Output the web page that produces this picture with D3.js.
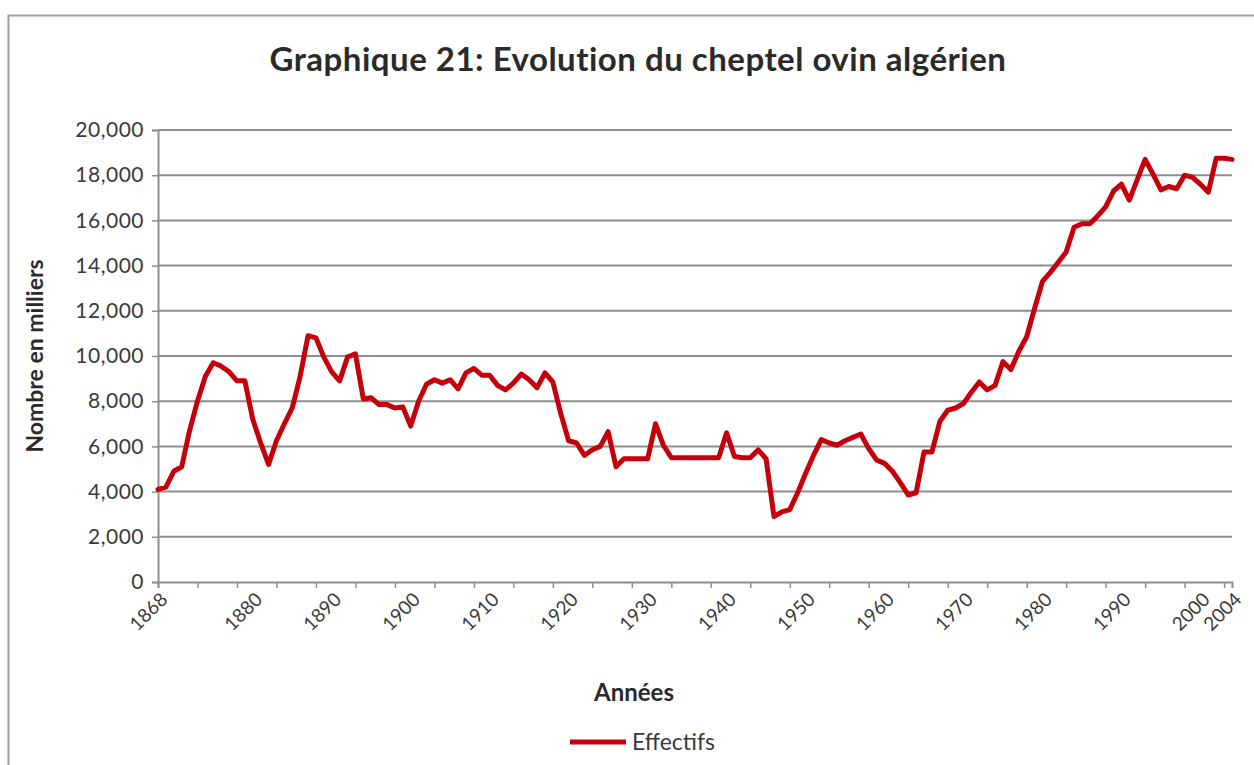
<!DOCTYPE html>
<html>
<head>
<meta charset="utf-8">
<script src="https://cdn.jsdelivr.net/npm/d3@7"></script>
<style>
  html, body { margin: 0; padding: 0; background: #fff; }
  svg { display: block; }
  text { font-family: Lato, "Open Sans", sans-serif; }
</style>
</head>
<body>
<svg id="chart" width="1254" height="765"></svg>
<script>
// Sheep herd in Algeria (thousands of head), one value per year 1868–2004
const firstYear = 1868;
const lastYear = 2004;
const effectifs = [
  4100, 4200, 4900, 5100, 6700, 8000, 9100, 9700, 9550, 9300,   // 1868–1877
  8900, 8900, 7200, 6150, 5200, 6250, 7000, 7700, 9100, 10900,  // 1878–1887
  10800, 9950, 9300, 8900, 9950, 10100, 8100, 8150, 7850, 7850, // 1888–1897
  7700, 7750, 6900, 8000, 8750, 8950, 8800, 8950, 8550, 9250,   // 1898–1907
  9450, 9150, 9150, 8700, 8500, 8800, 9200, 8950, 8600, 9250,   // 1908–1917
  8850, 7450, 6250, 6150, 5600, 5850, 6000, 6650, 5100, 5450,   // 1918–1927
  5450, 5450, 5450, 7000, 6050, 5500, 5500, 5500, 5500, 5500,   // 1928–1937
  5500, 5500, 6600, 5550, 5500, 5500, 5850, 5450, 2900, 3100,   // 1938–1947
  3200, 3950, 4800, 5600, 6300, 6150, 6050, 6250, 6400, 6550,   // 1948–1957
  5900, 5400, 5250, 4900, 4400, 3850, 3950, 5750, 5750, 7100,   // 1958–1967
  7600, 7700, 7900, 8400, 8850, 8500, 8700, 9750, 9400, 10200,  // 1968–1977
  10850, 12100, 13300, 13700, 14150, 14600, 15700, 15850, 15850, 16200, // 1978–1987
  16600, 17300, 17600, 16900, 17800, 18700, 18050, 17350, 17500, 17400, // 1988–1997
  18000, 17900, 17600, 17250, 18750, 18750, 18700                       // 1998–2004
];
const years = d3.range(firstYear, lastYear + 1);

// Axis labels and ticks
const yTicks = [0, 2000, 4000, 6000, 8000, 10000, 12000, 14000, 16000, 18000, 20000];
const xLabelYears = [1868, 1880, 1890, 1900, 1910, 1920, 1930, 1940, 1950, 1960, 1970, 1980, 1990, 2000, 2004];
const xTickYears = d3.range(firstYear, lastYear + 1, 5);

const titleText = "Graphique 21: Evolution du cheptel ovin algérien";
const yTitle = "Nombre en milliers";
const xTitle = "Années";
const seriesName = "Effectifs";

const svg = d3.select("#chart");
const W = 1254, H = 765;
const margin = { left: 158, right: 22, top: 130, bottom: 183 };
const plotW = W - margin.left - margin.right;
const plotH = H - margin.top - margin.bottom;

const lineColor = "#c5000b";
const gridColor = "#8e8e8e";
const textColor = "#3a3a3a";

// outer chart frame
svg.append("rect")
  .attr("x", 8.5).attr("y", 15.5)
  .attr("width", 1300).attr("height", 900)
  .attr("fill", "#fff")
  .attr("stroke", "#a0a0a0").attr("stroke-width", 2);

const x = d3.scaleLinear().domain([firstYear, lastYear]).range([0, plotW]);
const y = d3.scaleLinear().domain([0, 20000]).range([plotH, 0]);

const g = svg.append("g").attr("transform", `translate(${margin.left},${margin.top})`);

// horizontal gridlines
g.append("g")
  .selectAll("line")
  .data(yTicks.filter(d => d > 0))
  .join("line")
  .attr("x1", 0).attr("x2", plotW)
  .attr("y1", d => y(d)).attr("y2", d => y(d))
  .attr("stroke", gridColor).attr("stroke-width", 2);

// y axis
const yAxis = g.append("g")
  .call(d3.axisLeft(y).tickValues(yTicks).tickSize(6).tickPadding(8)
    .tickFormat(d3.format(",")));
yAxis.select(".domain").attr("stroke", gridColor).attr("stroke-width", 2);
yAxis.selectAll(".tick line").attr("stroke", gridColor).attr("stroke-width", 1.5);
yAxis.selectAll(".tick text")
  .attr("fill", textColor)
  .style("font-size", "21px")
  .style("letter-spacing", "0.5px");

// x axis: ticks every 5 years, labels at decades
const xAxis = g.append("g")
  .attr("transform", `translate(0,${plotH})`)
  .call(d3.axisBottom(x).tickValues(xTickYears).tickSize(6).tickFormat(""));
xAxis.select(".domain").attr("stroke", gridColor).attr("stroke-width", 2);
xAxis.selectAll(".tick line").attr("stroke", gridColor).attr("stroke-width", 1.5);

g.append("g")
  .attr("transform", `translate(0,${plotH})`)
  .selectAll("text")
  .data(xLabelYears)
  .join("text")
  .attr("transform", d => `translate(${x(d) + 6},${14}) rotate(-45)`)
  .attr("text-anchor", "end")
  .attr("dy", "0.35em")
  .attr("fill", textColor)
  .style("font-size", "19px")
  .text(d => d);

// data line
const line = d3.line()
  .x((d, i) => x(years[i]))
  .y(d => y(d));

g.append("path")
  .datum(effectifs)
  .attr("fill", "none")
  .attr("stroke", lineColor)
  .attr("stroke-width", 5)
  .attr("stroke-linejoin", "round")
  .attr("stroke-linecap", "round")
  .attr("d", line);

// titles
svg.append("text")
  .attr("x", 638).attr("y", 71)
  .attr("text-anchor", "middle")
  .attr("fill", "#2a2a2a")
  .style("font-size", "33px").style("font-weight", "bold")
  .style("letter-spacing", "0.5px")
  .text(titleText);

svg.append("text")
  .attr("transform", `translate(43,356) rotate(-90)`)
  .attr("text-anchor", "middle")
  .attr("fill", "#2a2a2a")
  .style("font-size", "23px").style("font-weight", "bold")
  .text(yTitle);

svg.append("text")
  .attr("x", 634).attr("y", 701)
  .attr("text-anchor", "middle")
  .attr("fill", "#2a2a2a")
  .style("font-size", "24px").style("font-weight", "bold")
  .text(xTitle);

// legend
const legend = svg.append("g").attr("transform", "translate(570,742)");
legend.append("line")
  .attr("x1", 0).attr("x2", 56).attr("y1", 0).attr("y2", 0)
  .attr("stroke", lineColor).attr("stroke-width", 5);
legend.append("text")
  .attr("x", 62).attr("y", 0).attr("dy", "0.35em")
  .attr("fill", textColor)
  .style("font-size", "23px")
  .text(seriesName);
</script>
</body>
</html>
